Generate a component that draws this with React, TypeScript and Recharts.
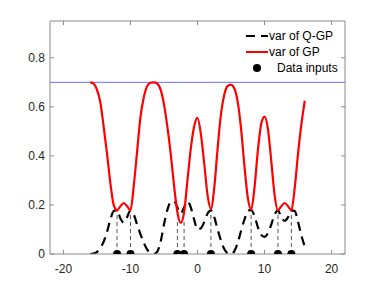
import React from 'react';
import {
  ComposedChart,
  Line,
  Scatter,
  XAxis,
  YAxis,
  ReferenceLine,
  Legend
} from 'recharts';

// sample positions shared by both variance curves
const gridX = [
  -16, -15.5, -15, -14.5, -14, -13.5, -13, -12.5, -12, -11.5, -11, -10.5, -10,
  -9.5, -9, -8.5, -8, -7.5, -7, -6.5, -6, -5.5, -5, -4.5, -4, -3.5, -3, -2.5,
  -2, -1.5, -1, -0.5, 0, 0.5, 1, 1.5, 2, 2.5, 3, 3.5, 4, 4.5, 5, 5.5, 6, 6.5,
  7, 7.5, 8, 8.5, 9, 9.5, 10, 10.5, 11, 11.5, 12, 12.5, 13, 13.5, 14, 14.5,
  15, 15.5, 16
];

// var of GP (red)
const gpVar = [
  0.70, 0.695, 0.67, 0.62, 0.52, 0.41, 0.29, 0.20, 0.178, 0.195, 0.208, 0.195, 0.178,
  0.28, 0.42, 0.56, 0.64, 0.685, 0.698, 0.70, 0.695, 0.67, 0.61, 0.52, 0.41, 0.28, 0.17, 0.127,
  0.17, 0.30, 0.43, 0.52, 0.555, 0.49, 0.37, 0.24, 0.184, 0.27, 0.43, 0.57, 0.65, 0.685, 0.69, 0.675, 0.62, 0.51,
  0.36, 0.23, 0.181, 0.27, 0.42, 0.53, 0.56, 0.51, 0.38, 0.24, 0.178, 0.195, 0.208, 0.195, 0.178, 0.27,
  0.41, 0.53, 0.625
];

// var of Q-GP (black dashed)
const qgpVar = [
  0.0, 0.002, 0.008, 0.025, 0.05, 0.09, 0.14, 0.175, 0.178, 0.145, 0.128, 0.15, 0.178,
  0.16, 0.12, 0.08, 0.045, 0.018, 0.004, 0.0, 0.01, 0.05, 0.12, 0.18, 0.212, 0.215, 0.19, 0.165,
  0.19, 0.215, 0.19, 0.14, 0.10, 0.105, 0.13, 0.165, 0.178, 0.15, 0.10, 0.055, 0.02, 0.003, 0.0, 0.012, 0.045, 0.095,
  0.14, 0.175, 0.18, 0.155, 0.11, 0.078, 0.07, 0.085, 0.12, 0.16, 0.178, 0.15, 0.135, 0.15, 0.178, 0.175,
  0.13, 0.075, 0.03
];

const inputX = [-12, -10, -3, -2, 2, 8, 12, 14];
const inputTop = [0.178, 0.178, 0.14, 0.14, 0.184, 0.181, 0.178, 0.178];

const priorVar = 0.7;
const xTicks = [-20, -10, 0, 10, 20];
const yTicks = [0, 0.2, 0.4, 0.6, 0.8];

const legendLabels = ['var of Q-GP', 'var of GP', 'Data inputs'];

const table = gridX.map((x, i) => ({ x, gp: gpVar[i], qgp: qgpVar[i] }));
const inputs = inputX.map((x) => ({ x, y: 0 }));

const FONT = '"Liberation Sans", Arial, Helvetica, sans-serif';
const AXIS = '#8a8a8a';

const NoTick = () => <g />;

const LegendBox = () => (
  <div style={{ fontFamily: FONT, fontSize: 12, color: '#000', lineHeight: '16px' }}>
    {legendLabels.map((label, i) => (
      <div key={label} style={{ display: 'flex', alignItems: 'center', height: 16 }}>
        <svg width={24} height={16} style={{ display: 'block' }}>
          {i === 0 && (
            <line x1={1} y1={8} x2={23} y2={8} stroke="#000" strokeWidth={2} strokeDasharray="9 6" />
          )}
          {i === 1 && <line x1={1} y1={8} x2={23} y2={8} stroke="#ff0000" strokeWidth={2} />}
          {i === 2 && <circle cx={12} cy={8} r={4} fill="#000" />}
        </svg>
        <span style={{ marginLeft: i === 2 ? 8 : 0 }}>{label}</span>
      </div>
    ))}
  </div>
);

export default function App() {
  return (
    <div style={{ position: 'absolute', left: 0, top: 0, width: 382, height: 286, background: '#fff' }}>
      <ComposedChart
        width={382}
        height={286}
        data={table}
        margin={{ top: 20, right: 36, left: 0, bottom: 2 }}
        style={{ fontFamily: FONT }}
      >
        <XAxis
          dataKey="x"
          type="number"
          domain={[-22, 22]}
          ticks={xTicks}
          interval={0}
          allowDataOverflow
          height={30}
          tickSize={-4}
          tickMargin={14}
          stroke={AXIS}
          tick={{ fill: '#262626', fontSize: 12 }}
        />
        <XAxis
          xAxisId="top"
          dataKey="x"
          orientation="top"
          type="number"
          domain={[-22, 22]}
          ticks={xTicks}
          interval={0}
          allowDataOverflow
          height={1}
          tickSize={-4}
          stroke={AXIS}
          tick={NoTick}
        />
        <YAxis
          type="number"
          domain={[0, 0.95]}
          ticks={yTicks}
          interval={0}
          allowDataOverflow
          width={50}
          tickSize={-4}
          tickMargin={9}
          stroke={AXIS}
          tick={{ fill: '#262626', fontSize: 12 }}
        />
        <YAxis
          yAxisId="right"
          orientation="right"
          type="number"
          domain={[0, 0.95]}
          ticks={yTicks}
          interval={0}
          allowDataOverflow
          width={1}
          tickSize={-4}
          stroke={AXIS}
          tick={NoTick}
        />
        <ReferenceLine y={priorVar} stroke="#6e6eff" strokeWidth={1} />
        {inputX.map((x, i) => (
          <ReferenceLine
            key={x}
            segment={[{ x, y: 0 }, { x, y: inputTop[i] }]}
            stroke="#555"
            strokeWidth={1}
            strokeDasharray="4 3"
          />
        ))}
        {/* invisible series so the top / right box axes get drawn */}
        <Line
          xAxisId="top"
          yAxisId="right"
          dataKey="gp"
          stroke="none"
          dot={false}
          legendType="none"
          isAnimationActive={false}
        />
        <Line
          dataKey="qgp"
          type="monotone"
          stroke="#000"
          strokeWidth={2.2}
          strokeDasharray="9 6"
          dot={false}
          isAnimationActive={false}
        />
        <Line
          dataKey="gp"
          type="monotone"
          stroke="#ff0000"
          strokeWidth={2.2}
          dot={false}
          isAnimationActive={false}
        />
        <Scatter
          data={inputs}
          dataKey="y"
          fill="#000"
          isAnimationActive={false}
          shape={(p: any) => <circle cx={p.cx} cy={p.cy} r={4} fill="#000" />}
        />
        <Legend
          content={<LegendBox />}
          layout="horizontal"
          verticalAlign="middle"
          align="center"
          wrapperStyle={{ left: 245, top: 28, width: 110 }}
        />
      </ComposedChart>
    </div>
  );
}
